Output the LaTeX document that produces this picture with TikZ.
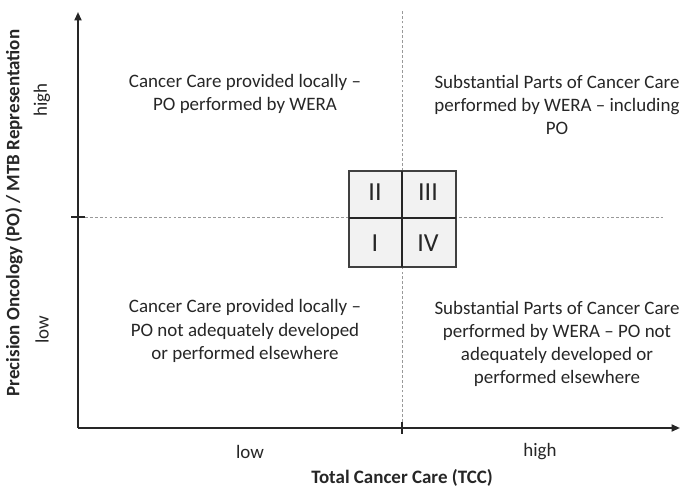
\documentclass[tikz,border=0pt]{standalone}
\usepackage{fontspec}
\setmainfont{Carlito}
\usetikzlibrary{arrows.meta}
\begin{document}
\begin{tikzpicture}[
        axis/.style={line width=1.3pt, draw=black!85},
        guide/.style={dashed, dash pattern=on 2pt off 1.5pt, draw=black!40, line width=0.4pt},
        quadtext/.style={align=center, font=\fontsize{13.5}{16.4}\selectfont, text=black!85},
        level/.style={font=\fontsize{13.5}{16}\selectfont, text=black!85},
        axistitle/.style={font=\fontsize{13.5}{16}\selectfont\bfseries, text=black!85},
        numeral/.style={font=\fontsize{18.5}{20}\selectfont, text=black!85}
    ]
            \clip(0, 0) rectangle (17, 12.25);

            \coordinate (o) at (1.95, 1.55);
            \coordinate (ytop) at (1.95, 11.95);
            \coordinate (xend) at (17.0, 1.55);
            \coordinate (ytickl) at (1.775, 6.825);
            \coordinate (ytickr) at (2.125, 6.825);
            \coordinate (hguide) at (16.575, 6.825);
            \coordinate (xtickb) at (10.05, 1.4);
            \coordinate (xtickt) at (10.05, 1.7);
            \coordinate (vguide) at (10.05, 12.0);

            % guides
            \draw[guide](ytickr) -- (hguide);
            \draw[guide](xtickt) -- (vguide);

            % axes
            \draw[axis, -{Triangle[length=6pt, width=5pt]}](o) -- (ytop);
            \draw[axis, -{Triangle[length=6pt, width=5pt]}](o) -- (xend);
            \draw[axis, line width=1pt](ytickl) to (ytickr);
            \draw[axis, line width=1pt](xtickb) to (xtickt);

            % quadrant box
            \filldraw[fill=black!5, draw=black!75, line width=0.9pt](8.725, 5.575) rectangle (11.4, 7.975);
                \draw[draw=black!85, line width=1.3pt](10.05, 5.575) to (10.05, 7.975);
                \draw[draw=black!85, line width=1.3pt](8.725, 6.8) to (11.4, 6.8);

            \node[numeral] at(9.375, 7.45)(qii){II};
            \node[numeral] at(10.7, 7.45)(qiii){III};
            \node[numeral] at(9.375, 6.175)(qi){I};
            \node[numeral] at(10.7, 6.175)(qiv){IV};

            % quadrant texts
            \node[quadtext] at(6.125, 9.9125)(tii){Cancer Care provided locally --\\PO performed by WERA};
            \node[quadtext] at(13.925, 9.625)(tiii){Substantial Parts of Cancer Care\\performed by WERA -- including\\PO};
            \node[quadtext] at(6.125, 3.975)(ti){Cancer Care provided locally --\\PO not adequately developed\\or performed elsewhere};
            \node[quadtext] at(13.925, 3.65)(tiv){Substantial Parts of Cancer Care\\performed by WERA -- PO not\\adequately developed or\\performed elsewhere};

            % axis labels
            \node[level] at(6.25, 0.95)(xlow){low};
            \node[level] at(13.5, 0.95)(xhigh){high};
            \node[level, rotate=90] at(1.05, 9.75)(yhigh){high};
            \node[level, rotate=90] at(1.05, 4.0)(ylow){low};

            \node[axistitle] at(10.05, 0.3)(xtitle){Total Cancer Care (TCC)};
            \node[axistitle, rotate=90] at(0.35, 6.925)(ytitle){Precision Oncology (PO) / MTB Representation};
\end{tikzpicture}
\end{document}
